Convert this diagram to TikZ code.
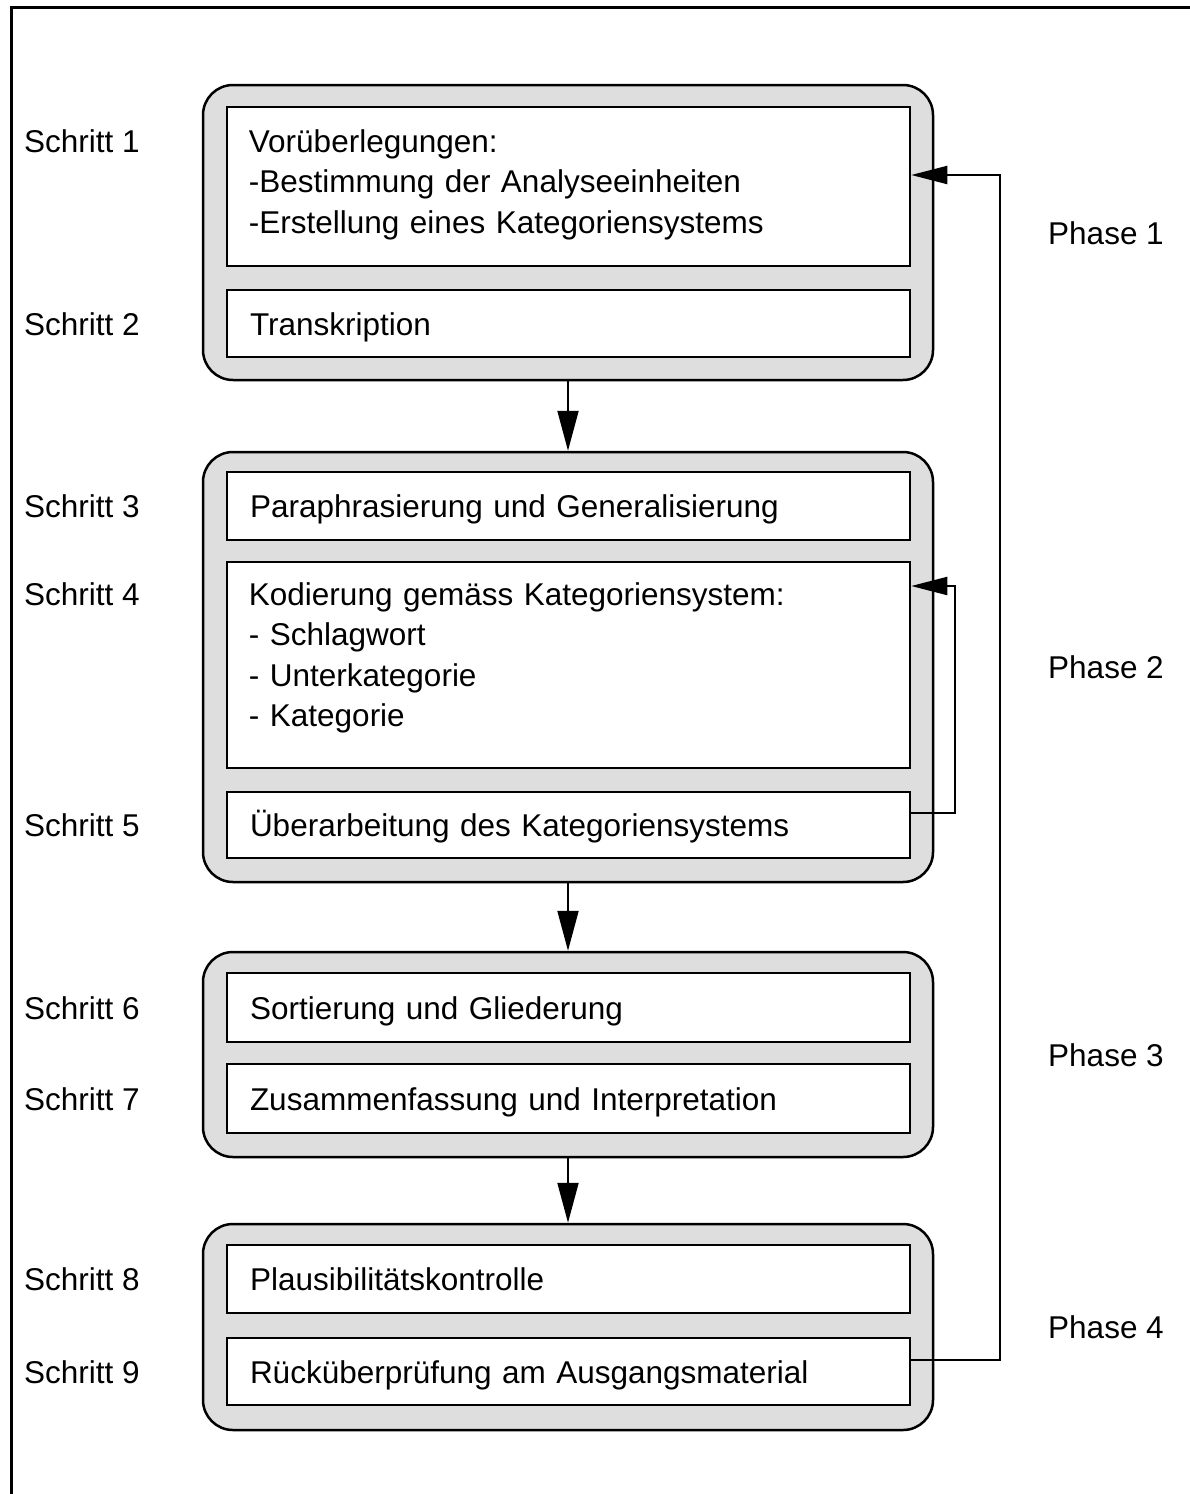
\documentclass[tikz,border=0pt]{standalone}
\usepackage{fontspec}
\setmainfont{Liberation Sans}
\usetikzlibrary{arrows.meta,positioning}
\definecolor{phasegray}{gray}{0.87}
\tikzset{
  phasebox/.style={draw, line width=2.5pt, fill=phasegray, rounded corners=30pt, minimum width=730pt},
  stepbox/.style={draw, line width=2.5pt, fill=white, minimum width=683pt, text width=637pt,
    align=left, inner xsep=23pt, text height=23pt, text depth=0pt},
  linetext/.style={inner sep=0pt, anchor=base west, text width=637pt, align=left},
  steplabel/.style={inner sep=0pt, anchor=base west},
  phaselabel/.style={inner sep=0pt, anchor=west, text height=23pt, text depth=0pt},
  downarrow/.style={-{Triangle[length=40pt,width=21pt]}, line width=2pt},
  backarrow/.style={-{Triangle[length=36pt,width=18pt]}, line width=2pt},
}
\begin{document}
\begin{tikzpicture}[x=1pt,y=-1pt,font=\fontsize{31.5}{40.5}\selectfont]
  \useasboundingbox (0,0) rectangle (1190,1494);
  % frame
  \draw[line width=3pt] (11,1500) -- (11,7) -- (1200,7);

  % phases
  \node[phasebox, minimum height=295pt] (p1) at (568,232.5) {};
  \node[phasebox, minimum height=430pt] (p2) at (568,667) {};
  \node[phasebox, minimum height=205pt] (p3) at (568,1054.5) {};
  \node[phasebox, minimum height=206pt] (p4) at (568,1327) {};

  % steps
  \node[stepbox, minimum height=159pt] (s1) at (568.5,186.5) {};
  \node[stepbox, minimum height=67pt] (s2) at (568.5,323.5) {Transkription};
  \node[stepbox, minimum height=68pt] (s3) at (568.5,506) {Paraphrasierung und Generalisierung};
  \node[stepbox, minimum height=206pt] (s4) at (568.5,665) {};
  \node[stepbox, minimum height=66pt] (s5) at (568.5,825) {Überarbeitung des Kategoriensystems};
  \node[stepbox, minimum height=69pt] (s6) at (568.5,1007.5) {Sortierung und Gliederung};
  \node[stepbox, minimum height=69pt] (s7) at (568.5,1098.5) {Zusammenfassung und Interpretation};
  \node[stepbox, minimum height=68pt] (s8) at (568.5,1279) {Plausibilitätskontrolle};
  \node[stepbox, minimum height=67pt] (s9) at (568.5,1371.5) {Rücküberprüfung am Ausgangsmaterial};

  \node[linetext] (t1) at ([shift={(23,46.5)}]s1.north west)
    {Vorüberlegungen:\\-Bestimmung der Analyseeinheiten\\-Erstellung eines Kategoriensystems};
  \node[linetext] (t4) at ([shift={(23,44.5)}]s4.north west)
    {Kodierung gemäss Kategoriensystem:\\- Schlagwort\\- Unterkategorie\\- Kategorie};

  % labels
  \coordinate (lx) at (24,0);
  \node[steplabel] (l1) at (lx |- t1.base) {Schritt 1};
  \node[steplabel] (l2) at (lx |- s2.base) {Schritt 2};
  \node[steplabel] (l3) at (lx |- s3.base) {Schritt 3};
  \node[steplabel] (l4) at (lx |- t4.base) {Schritt 4};
  \node[steplabel] (l5) at (lx |- s5.base) {Schritt 5};
  \node[steplabel] (l6) at (lx |- s6.base) {Schritt 6};
  \node[steplabel] (l7) at (lx |- s7.base) {Schritt 7};
  \node[steplabel] (l8) at (lx |- s8.base) {Schritt 8};
  \node[steplabel] (l9) at (lx |- s9.base) {Schritt 9};

  \coordinate (phx) at (1048,0);
  \node[phaselabel] (ph1) at (phx |- p1) {Phase 1};
  \node[phaselabel] (ph2) at (phx |- p2) {Phase 2};
  \node[phaselabel] (ph3) at (phx |- p3) {Phase 3};
  \node[phaselabel] (ph4) at (phx |- p4) {Phase 4};

  % arrows
  \draw[downarrow] (p1.south) -- (p2.north);
  \draw[downarrow] (p2.south) -- (p3.north);
  \draw[downarrow] (p3.south) -- (p4.north);

  \coordinate (fb1) at (1000,175);
  \coordinate (fb2) at (955,586);
  \draw[backarrow] ([yshift=11.5pt]s9.east) -| (fb1) -- (fb1 -| s1.east);
  \draw[backarrow] ([yshift=12pt]s5.east) -| (fb2) -- (fb2 -| s4.east);
\end{tikzpicture}
\end{document}
